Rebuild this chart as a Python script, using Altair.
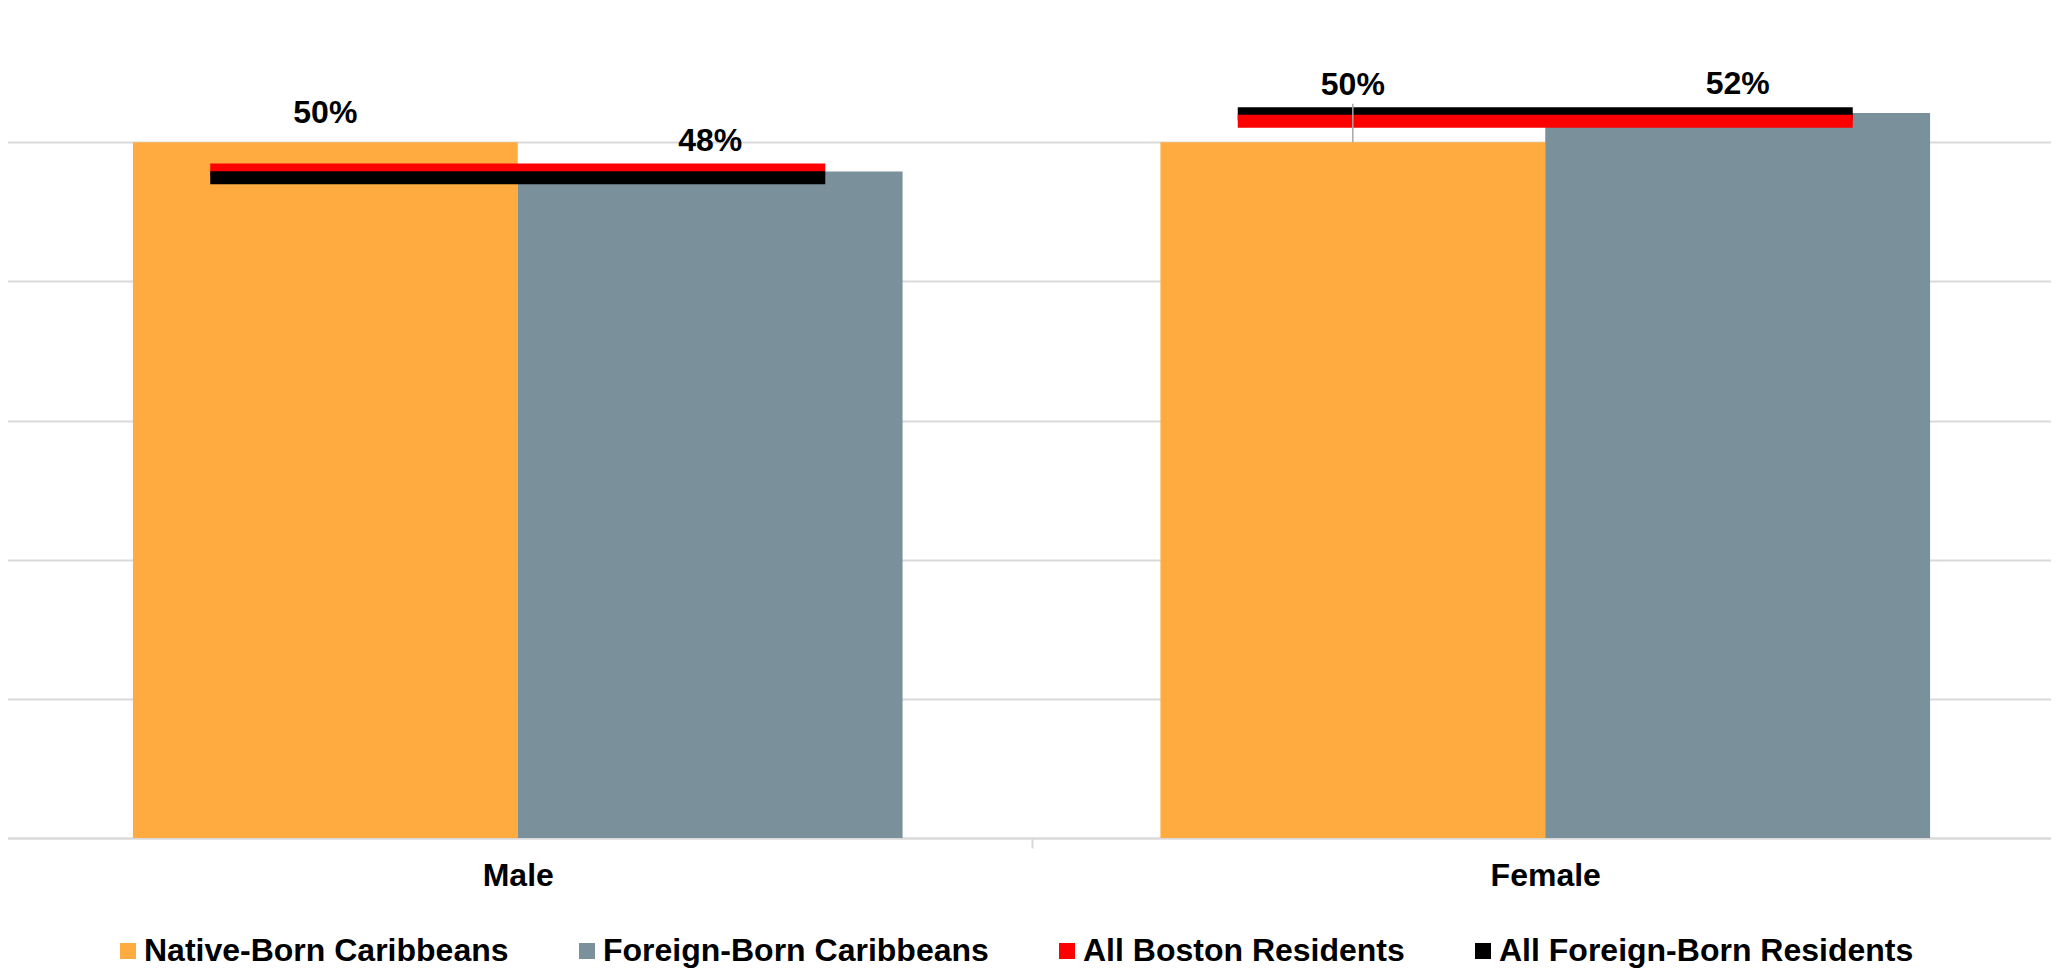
import altair as alt
import pandas as pd

categories = ["Male", "Female"]
bar_series = ["Native-Born Caribbeans", "Foreign-Born Caribbeans"]
native_born = [50.0, 50.0]
foreign_born = [47.9, 52.1]
line_series = ["All Boston Residents", "All Foreign-Born Residents"]
boston_all = [48.0, 51.5]
foreign_all = [47.45, 52.05]
label_text_native = ["50%", "50%"]
label_text_foreign = ["48%", "52%"]

all_series = bar_series + line_series
colors = ["#FFAB40", "#7A909A", "#FF0000", "#000000"]

bars = []
for i, c in enumerate(categories):
    bars.append({"cat": c, "series": bar_series[0], "value": native_born[i], "label": label_text_native[i]})
    bars.append({"cat": c, "series": bar_series[1], "value": foreign_born[i], "label": label_text_foreign[i]})
lines = []
for i, c in enumerate(categories):
    lines.append({"cat": c, "series": line_series[0], "value": boston_all[i]})
    lines.append({"cat": c, "series": line_series[1], "value": foreign_all[i]})

bdf = pd.DataFrame(bars)
ldf = pd.DataFrame(lines)
# labels sit above the reference lines if these lie over the bar
top_line = ldf.groupby("cat")["value"].max()
bdf["anchor"] = [max(v, top_line[c]) for c, v in zip(bdf["cat"], bdf["value"])]
bdf["moved"] = bdf["anchor"] > bdf["value"] + 1

FONT = "Liberation Sans"
color_scale = alt.Scale(domain=all_series, range=colors)
x_enc = alt.X("cat:N", sort=categories, title=None,
              scale=alt.Scale(paddingInner=0, paddingOuter=0),
              axis=alt.Axis(labelAngle=0, labelFontSize=32, labelFont=FONT, labelFontWeight="bold",
                            labelColor="#000000", labelPadding=12, tickBand="extent",
                            tickColor="#D9D9D9", tickWidth=2, tickSize=10,
                            domainColor="#D9D9D9", domainWidth=2, grid=False))
y_scale = alt.Scale(domain=[0, 60], nice=False)
y_enc = alt.Y("value:Q", scale=y_scale, title=None,
              axis=alt.Axis(values=[0, 10, 20, 30, 40, 50, 60], labels=False, ticks=False, domain=False,
                            grid=True, gridColor="#D9D9D9", gridWidth=2))
xoff = alt.XOffset("series:N", sort=bar_series, scale=alt.Scale(paddingOuter=0.335, paddingInner=0))

legend = alt.Legend(title=None, orient="none", direction="horizontal", legendX=108, legendY=932,
                    symbolType="square", symbolSize=256, symbolStrokeWidth=0, symbolOpacity=1,
                    labelFontSize=32, labelFont=FONT, labelFontWeight="bold", labelColor="#000000",
                    labelLimit=0, columnPadding=62, labelOffset=0, values=all_series)

bar_layer = alt.Chart(bdf).mark_bar(stroke=None).encode(
    x=x_enc, xOffset=xoff, y=y_enc,
    color=alt.Color("series:N", scale=color_scale, legend=legend),
)

line_layer = alt.Chart(ldf).mark_tick(size=615, thickness=13, opacity=1).encode(
    x=alt.X("cat:N", sort=categories),
    y=alt.Y("value:Q"),
    color=alt.Color("series:N", scale=color_scale, legend=legend),
    order=alt.Order("value:Q", sort="descending"),
)

leader_layer = alt.Chart(bdf).transform_filter("datum.moved").mark_rule(
    color="#A6A6A6", strokeWidth=1.5, y2Offset=-10).encode(
    x=alt.X("cat:N", sort=categories), xOffset=xoff,
    y=alt.Y("value:Q"), y2=alt.Y2("anchor:Q"),
)

text_layer = alt.Chart(bdf).mark_text(font=FONT, fontSize=32, fontWeight="bold", color="#000000",
                                      baseline="middle", dy=-29).encode(
    x=alt.X("cat:N", sort=categories), xOffset=xoff,
    y=alt.Y("anchor:Q"), text="label:N",
)

chart = alt.layer(bar_layer, line_layer, leader_layer, text_layer).resolve_scale(color="shared").properties(
    width=2055, height=835,
    padding={"left": -4, "top": -5, "right": -8, "bottom": 130},
    autosize=alt.AutoSizeParams(type="none"),
).configure_view(stroke=None).configure(background="#FFFFFF")

chart.save("out.html", embed_options={"renderer": "svg", "actions": False})
